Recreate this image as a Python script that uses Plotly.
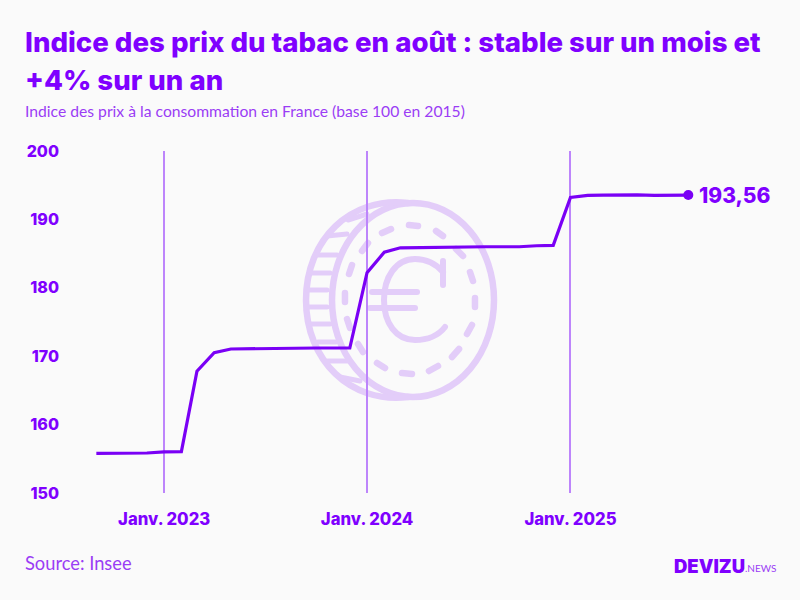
import plotly.graph_objects as go

# --- DATA ---
DATES = [
    "2022-09-01", "2022-10-01", "2022-11-01", "2022-12-01",
    "2023-01-01", "2023-02-01", "2023-03-01", "2023-04-01", "2023-05-01", "2023-06-01",
    "2023-07-01", "2023-08-01", "2023-09-01", "2023-10-01", "2023-11-01", "2023-12-01",
    "2024-01-01", "2024-02-01", "2024-03-01", "2024-04-01", "2024-05-01", "2024-06-01",
    "2024-07-01", "2024-08-01", "2024-09-01", "2024-10-01", "2024-11-01", "2024-12-01",
    "2025-01-01", "2025-02-01", "2025-03-01", "2025-04-01", "2025-05-01", "2025-06-01",
    "2025-07-01", "2025-08-01",
]
INDEX = [
    155.8, 155.8, 155.82, 155.85,
    156.0, 156.05, 167.8, 170.5, 171.05, 171.1,
    171.15, 171.2, 171.2, 171.2, 171.2, 171.2,
    182.2, 185.2, 185.85, 185.9, 185.9, 185.95,
    186.0, 186.0, 186.0, 186.0, 186.15, 186.2,
    193.2, 193.5, 193.55, 193.58, 193.6, 193.5,
    193.54, 193.56,
]
LAST_LABEL = "193,56"
X_TICKS = ["2023-01-01", "2024-01-01", "2025-01-01"]
X_LABELS = ["Janv. 2023", "Janv. 2024", "Janv. 2025"]
Y_TICKS = [150, 160, 170, 180, 190, 200]

TITLE_LINE_1 = "Indice des prix du tabac en août : stable sur un mois et"
TITLE_LINE_2 = "+4% sur un an"
SUBTITLE = "Indice des prix à la consommation en France (base 100 en 2015)"
SOURCE = "Source: Insee"

# --- STYLE ---
PURPLE = "#7f00ff"
LINE_PURPLE = "#7a00f5"
SOFT_PURPLE = "#9a3df5"
GRID = "#bd85fb"
COIN = "#e3cdf9"
BG = "#fafafa"
W, H = 800, 600
L, R, T, B = 68, 20, 151, 107


def fx(x):
    return (x - L) / (W - L - R)


def fy(y):
    return 1 - (y - T) / (H - T - B)


def coin_path(points):
    """Turns [(cmd, x, y, ...)] given in page pixels into a paper-ref svg path."""
    out = []
    for p in points:
        cmd, vals = p[0], p[1:]
        xy = [f"{fx(vals[i]):.4f},{fy(vals[i + 1]):.4f}" for i in range(0, len(vals), 2)]
        out.append(cmd + " ".join(xy))
    return " ".join(out)


def coin_shape(points, width):
    return dict(type="path", xref="paper", yref="paper", layer="below",
                path=coin_path(points), line=dict(color=COIN, width=width))


def page_note(text, x, y, xanchor, **font):
    return dict(text=text, xref="paper", yref="paper", x=fx(x), y=fy(y),
                xanchor=xanchor, yanchor="middle", showarrow=False, font=font)


# dashes of the inner ring, page pixels
RING = [
    (382, 233, 391, 229), (409, 225, 418, 226), (436, 231, 443, 236), (456, 249, 463, 256),
    (470, 272, 473, 281), (475, 298, 475, 307), (472, 325, 467, 334), (459, 349, 452, 357),
    (438, 366, 429, 371), (412, 374, 402, 373), (385, 368, 377, 363), (363, 352, 358, 344),
    (350, 328, 347, 319), (345, 302, 345, 293), (349, 274, 352, 265), (362, 251, 368, 243),
]
# ridges on the coin's edge, page pixels
RIDGES = [
    (348, 220, 367, 214), (327, 236, 347, 234), (317, 255, 337, 255), (312, 273, 330, 273),
    (308, 290, 327, 290), (308, 307, 327, 307), (311, 324, 330, 324), (318, 342, 336, 342),
    (328, 361, 347, 361), (340, 377, 360, 381),
]

shapes = [
    # front face
    dict(type="circle", xref="paper", yref="paper", layer="below",
         x0=fx(332), x1=fx(494), y0=fy(397), y1=fy(203), line=dict(color=COIN, width=6.5)),
    # back edge, left half only
    coin_shape([("M", 408, 203), ("C", 350, 196, 306, 240, 306, 300),
                ("C", 306, 360, 350, 404, 408, 397)], 6.5),
    # euro sign
    coin_shape([("M", 443, 272), ("C", 436, 264, 426, 259, 415, 259),
                ("C", 396, 259, 384, 277, 384, 300), ("C", 384, 323, 396, 340, 415, 340),
                ("C", 428, 340, 438, 336, 445, 327)], 6),
    coin_shape([("M", 443, 261), ("L", 443, 285)], 6),
    coin_shape([("M", 372, 292), ("L", 417, 292)], 6),
    coin_shape([("M", 370, 308), ("L", 415, 308)], 6),
]
for x0, y0, x1, y1 in RING:
    shapes.append(coin_shape([("M", x0, y0), ("L", x1, y1)], 6.5))
for x0, y0, x1, y1 in RIDGES:
    shapes.append(coin_shape([("M", x0, y0), ("L", x1, y1)], 5))

fig = go.Figure()
fig.add_trace(go.Scatter(
    x=DATES, y=INDEX, mode="lines",
    line=dict(color=LINE_PURPLE, width=3.2), showlegend=False,
))
fig.add_trace(go.Scatter(
    x=DATES[-1:], y=INDEX[-1:], mode="markers",
    marker=dict(color=LINE_PURPLE, size=10),
    showlegend=False, cliponaxis=False,
))

title_font = dict(family="Inter", size=27.6, color=PURPLE, weight=800)
annotations = [
    page_note(TITLE_LINE_1, 23, 42, "left", **title_font),
    page_note(TITLE_LINE_2, 23, 80, "left", **title_font),
    page_note(SUBTITLE, 23, 111, "left", family="Lato", size=15.7, color=SOFT_PURPLE),
    page_note(SOURCE, 23, 563, "left", family="Lato", size=18.3, color=SOFT_PURPLE),
    page_note("DEVIZU", 747, 566, "right", family="Inter", size=18.5, color=PURPLE, weight=900),
    page_note(".NEWS", 743, 568, "left", family="Lato", size=10, color=SOFT_PURPLE, weight=400),
    dict(text=LAST_LABEL, x=DATES[-1], y=INDEX[-1], xanchor="left", yanchor="middle",
         xshift=9, showarrow=False,
         font=dict(family="Inter", size=21, color=PURPLE, weight=800)),
]

fig.update_layout(
    width=W, height=H, autosize=False,
    margin=dict(l=L, r=R, t=T, b=B, pad=0),
    paper_bgcolor=BG, plot_bgcolor=BG,
    xaxis=dict(
        type="date", range=["2022-07-12", "2026-01-13"],
        tickmode="array", tickvals=X_TICKS, ticktext=X_LABELS,
        showgrid=True, gridcolor=GRID, gridwidth=1.5, zeroline=False, showline=False,
        ticks="", ticklabelstandoff=14,
        tickfont=dict(family="Inter", size=16.7, color=PURPLE, weight=800),
    ),
    yaxis=dict(
        range=[150, 200], tickmode="array", tickvals=Y_TICKS,
        showgrid=False, zeroline=False, showline=False, ticks="", ticklabelstandoff=8,
        tickfont=dict(family="Inter", size=16, color=PURPLE, weight=800),
    ),
    shapes=shapes, annotations=annotations,
)

post = """
document.body.style.margin = '0';
document.querySelectorAll('.shapelayer path').forEach(function (p) {
    p.style.strokeLinecap = 'round';
});
"""
fig.write_html("out.html", post_script=post, config=dict(displayModeBar=False))
